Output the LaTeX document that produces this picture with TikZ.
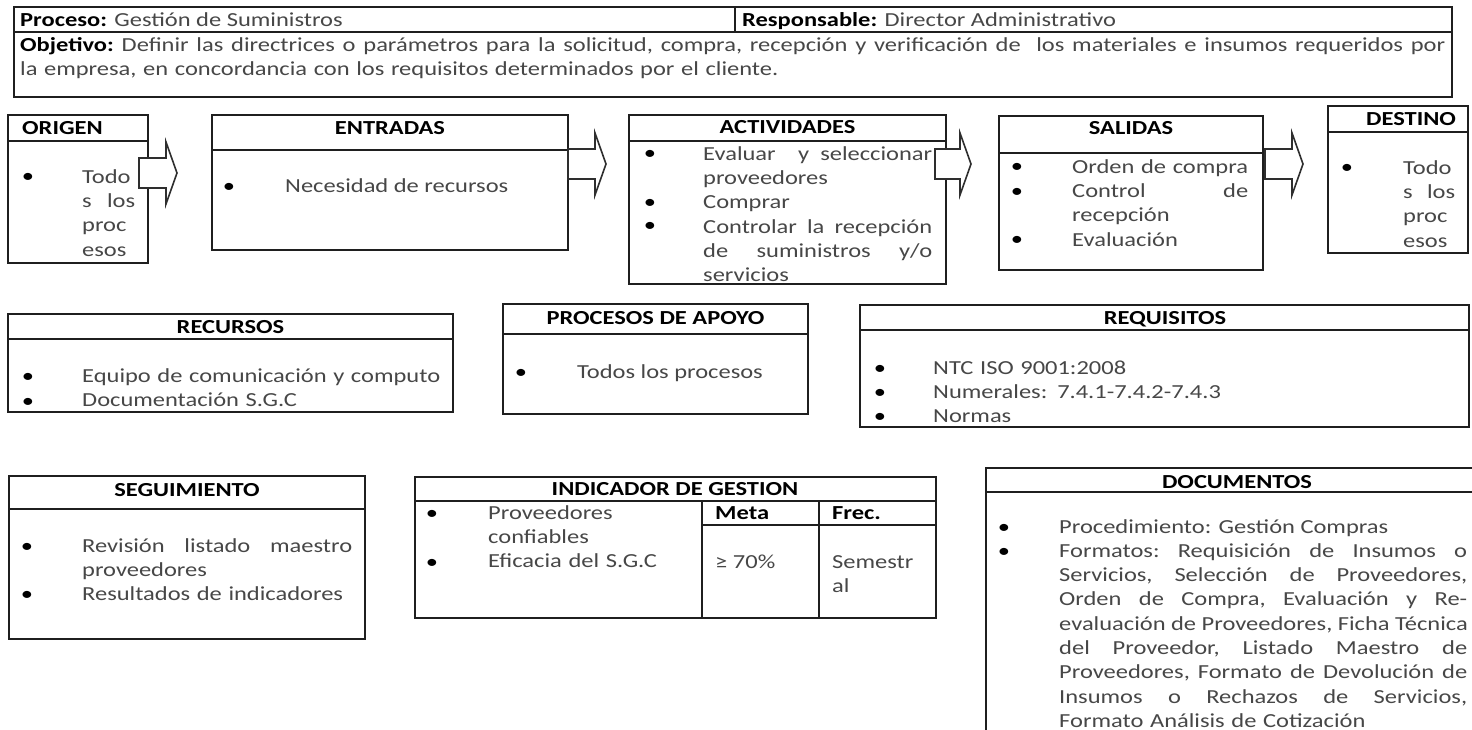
\documentclass[tikz,border=0pt]{standalone}
\usepackage{fontspec}
\setmainfont{Carlito}[FakeStretch=1.23]
\usetikzlibrary{calc}
\newcommand\bodysize{\fontsize{19.9}{24.3}\selectfont}
% one justified line: word spaces stretch evenly to fill the block width
\newcommand\jl[1]{\makebox[\hsize][s]{\frenchspacing\spaceskip=\fontdimen2\font plus 1fil\relax #1}\\}
% white block arrow: start point (body centre left), body length
\newcommand\flowarrow[2]{\draw[barrow] #1 ++(0,-15) -- ++(#2,0) -- ++(0,-16) -- ++(11,31) -- ++(-11,31) -- ++(0,-16) -- ++(-#2,0) -- cycle;}
\begin{document}
\begin{tikzpicture}[x=1pt,y=-1pt,
  panel/.style={draw=black!88, line width=2.5pt, inner sep=0pt, outer sep=0pt, anchor=north west},
  sep/.style={draw=black!88, line width=2.5pt},
  title/.style={anchor=base, inner sep=0pt, font=\bodysize\bfseries, text=black},
  bul/.style={anchor=base, inner sep=0pt, font=\bodysize, text=black},
  txt/.style={anchor=base west, inner sep=0pt, font=\bodysize, text=black!72},
  para/.style={anchor=north west, inner sep=0pt, font=\bodysize, text=black!72},
  barrow/.style={draw=black!82, line width=1.6pt, fill=white, line join=miter},
]
\useasboundingbox (0,0) rectangle (1472,730);
\clip (0,0) rectangle (1472,730);
\fill[white] (0,0) rectangle (1472,730);

% ---------- header ----------
\node[panel, minimum width=1438, minimum height=90] (hdr) at (14,7) {};
\coordinate (hy) at (0,32);
\draw[sep] (hdr.west |- hy) -- (hdr.east |- hy);
\draw[sep] (735,7) -- (735,32);
\node[txt] (proc) at (20,27) {{\color{black}\bfseries Proceso:} Gestión de Suministros};
\node[txt] (resp) at (742,27) {{\color{black}\bfseries Responsable:} Director Administrativo};
\node[para, text width=1425] (obj) at (20,34) {\noindent\strut\jl{{\color{black}\bfseries Objetivo:} Definir las directrices o parámetros para la solicitud, compra, recepción y verificación de \ los materiales e insumos requeridos por}la empresa, en concordancia con los requisitos determinados por el cliente.};

% ---------- ORIGEN ----------
\node[panel, minimum width=140, minimum height=148] (origen) at (8,115) {};
\coordinate (oy) at (0,141);
\draw[sep] (origen.west |- oy) -- (origen.east |- oy);
\node[title, anchor=base west] (origenT) at (22,135) {ORIGEN};
\node[bul] (ob1) at (28,183) {•};
\node[para, text width=53] (origenX) at (82,166) {\noindent\strut Todo\\\jl{s los}proc\\esos};

% ---------- ENTRADAS ----------
\node[panel, minimum width=356, minimum height=135] (entradas) at (212,115) {};
\coordinate (ey) at (0,150);
\draw[sep] (entradas.west |- ey) -- (entradas.east |- ey);
\node[title] (entradasT) at (390,135) {ENTRADAS};
\node[bul] (eb1) at (229,193) {•};
\node[txt] (entradasX) at (285,193) {Necesidad de recursos};

% ---------- ACTIVIDADES ----------
\node[panel, minimum width=317, minimum height=169] (act) at (629,115) {};
\coordinate (ay) at (0,141);
\draw[sep] (act.west |- ay) -- (act.east |- ay);
\node[title] (actT) at (787.5,134) {ACTIVIDADES};
\node[bul] (ab1) at (650,160) {•};
\node[bul] (ab2) at (650,208) {•};
\node[bul] (ab3) at (650,232) {•};
\node[para, text width=229] (actX) at (703,143) {\noindent\strut\jl{Evaluar \ y seleccionar}proveedores\\Comprar\\\jl{Controlar la recepción}\jl{de suministros y/o}servicios};

% ---------- SALIDAS ----------
\node[panel, minimum width=264, minimum height=154] (salidas) at (999,116) {};
\coordinate (sy) at (0,153);
\draw[sep] (salidas.west |- sy) -- (salidas.east |- sy);
\node[title] (salidasT) at (1131,135) {SALIDAS};
\node[bul] (sb1) at (1017,173) {•};
\node[bul] (sb2) at (1017,197) {•};
\node[bul] (sb3) at (1017,245) {•};
\node[para, text width=176] (salidasX) at (1072,156) {\noindent\strut Orden de compra\\\jl{Control de}recepción\\Evaluación};

% ---------- DESTINO ----------
\node[panel, minimum width=140, minimum height=147] (destino) at (1328,106) {};
\coordinate (dy) at (0,132);
\draw[sep] (destino.west |- dy) -- (destino.east |- dy);
\node[title, anchor=base west] (destinoT) at (1366,126) {DESTINO};
\node[bul] (db1) at (1347,174) {•};
\node[para, text width=52] (destinoX) at (1403,157) {\noindent\strut Todo\\\jl{s los}proc\\esos};

% ---------- flow arrows ----------
\coordinate (ya) at (0,173);
\coordinate (yb) at (0,164);
\flowarrow{($(origen.east |- ya)+(-9,0)$)}{27}
\flowarrow{(entradas.east |- yb)}{27}
\flowarrow{($(act.east |- yb)+(-11,0)$)}{25}
\flowarrow{($(salidas.east |- yb)+(2,0)$)}{27}

% ---------- RECURSOS ----------
\node[panel, minimum width=445, minimum height=98] (recursos) at (8,314) {};
\coordinate (ry) at (0,339);
\draw[sep] (recursos.west |- ry) -- (recursos.east |- ry);
\node[title] (recursosT) at (230.5,333) {RECURSOS};
\node[bul] (rb1) at (28,382) {•};
\node[bul] (rb2) at (28,407) {•};
\node[para, text width=360] (recursosX) at (82,365) {\noindent\strut Equipo de comunicación y computo\\Documentación S.G.C};

% ---------- PROCESOS DE APOYO ----------
\node[panel, minimum width=305, minimum height=110] (apoyo) at (503,304) {};
\coordinate (py) at (0,334);
\draw[sep] (apoyo.west |- py) -- (apoyo.east |- py);
\node[title] (apoyoT) at (655.5,324) {PROCESOS DE APOYO};
\node[bul] (pb1) at (521,378) {•};
\node[txt] (apoyoX) at (577,378) {Todos los procesos};

% ---------- REQUISITOS ----------
\node[panel, minimum width=609, minimum height=122] (req) at (860,305) {};
\coordinate (qy) at (0,330);
\draw[sep] (req.west |- qy) -- (req.east |- qy);
\node[title] (reqT) at (1165,324) {REQUISITOS};
\node[bul] (qb1) at (880,374) {•};
\node[bul] (qb2) at (880,398) {•};
\node[bul] (qb3) at (880,422) {•};
\node[para, text width=400] (reqX) at (933,357) {\noindent\strut NTC ISO 9001:2008\\Numerales: 7.4.1-7.4.2-7.4.3\\Normas};

% ---------- SEGUIMIENTO ----------
\node[panel, minimum width=356, minimum height=163] (seg) at (9,476) {};
\coordinate (gy) at (0,509);
\draw[sep] (seg.west |- gy) -- (seg.east |- gy);
\node[title] (segT) at (187,496) {SEGUIMIENTO};
\node[bul] (gb1) at (27,552) {•};
\node[bul] (gb2) at (27,600) {•};
\node[para, text width=270] (segX) at (82,535) {\noindent\strut\jl{Revisión listado maestro}proveedores\\Resultados de indicadores};

% ---------- INDICADOR DE GESTION ----------
\node[panel, minimum width=521, minimum height=141] (ind) at (415,477) {};
\coordinate (iy) at (0,501);
\coordinate (iy2) at (0,525);
\coordinate (mx) at (702,0);
\coordinate (fx) at (819,0);
\draw[sep] (ind.west |- iy) -- (ind.east |- iy);
\draw[sep] (mx |- iy) -- (mx |- ind.south);
\draw[sep] (fx |- iy) -- (fx |- ind.south);
\draw[sep] (mx |- iy2) -- (ind.east |- iy2);
\node[title] (indT) at (675,495) {INDICADOR DE GESTION};
\node[bul] (ib1) at (432,519) {•};
\node[bul] (ib2) at (432,568) {•};
\node[para, text width=205] (indX) at (488,502) {\noindent\strut Proveedores\\confiables\\Eficacia del S.G.C};
\node[title, anchor=base west] (metaT) at (715,519) {Meta};
\node[title, anchor=base west] (frecT) at (832,519) {Frec.};
\node[txt] (metaX) at (715,568) {≥ 70\%};
\node[para, text width=100] (frecX) at (832,551) {\noindent\strut Semestr\\al};

% ---------- DOCUMENTOS ----------
\draw[sep] (986,745) -- (986,468) -- (1490,468);
\draw[sep] (986,492) -- (1490,492);
\node[title] (docT) at (1237,488) {DOCUMENTOS};
\node[bul] (cb1) at (1004,533) {•};
\node[bul] (cb2) at (1004,557) {•};
\node[txt] (docX1) at (1059,533) {Procedimiento: Gestión Compras};
\node[para, text width=408] (docX2) at (1059,540) {\noindent\strut\jl{Formatos: Requisición de Insumos o}\jl{Servicios, Selección de Proveedores,}\jl{Orden de Compra, Evaluación y Re-}\jl{evaluación de Proveedores, Ficha Técnica}\jl{del Proveedor, Listado Maestro de}\jl{Proveedores, Formato de Devolución de}\jl{Insumos o Rechazos de Servicios,}Formato Análisis de Cotización};
\end{tikzpicture}
\end{document}
